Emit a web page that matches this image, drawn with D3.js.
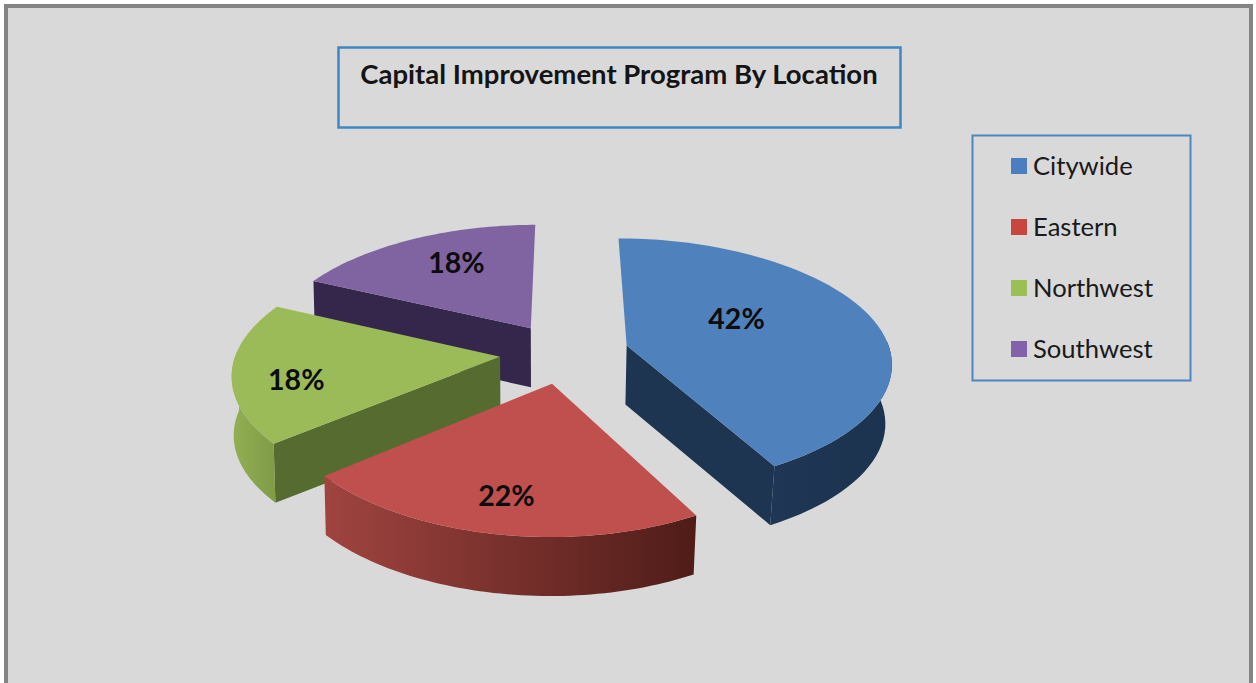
<!DOCTYPE html>
<html><head><meta charset="utf-8">
<script src="https://cdn.jsdelivr.net/npm/d3@7/dist/d3.min.js"></script>
<style>html,body{margin:0;padding:0;background:#fff;overflow:hidden}svg{display:block}text{font-family:Lato,"Open Sans",sans-serif}</style>
</head><body><svg id="c" width="1256" height="683"></svg>
<script>
const categories = ["Citywide","Eastern","Northwest","Southwest"];
const shares = [42,22,18,18];
const titleText = "Capital Improvement Program By Location";
const topColors = ["#4f81bd","#c0504d","#9bbb59","#8064a2"];
const legendColors = ["#4a7ebf","#c8463f","#9bbf55","#8262a8"];
const innerColors = ["#1e3552","#4f1c18","#566b2f","#35264c"];
const outerStops = [["#1f3654","#1c3350"],["#a04440","#4f1c18"],["#93b053","#7f9b47"],["#33264a","#33264a"]];
const labelRadius = [0.48,0.79,0.77,0.66];
const labelTurn = [-10,0,-8,3];
const drawOrder = [3,0,2,1];

const W=1256,H=683,cx=564.5,cy=353,R=264,tilt=123.5,persp=0.135,perspX=0.13,explode=0.245,depth=59;
const svg=d3.select("#c");
svg.append("rect").attr("x",6).attr("y",6).attr("width",1245).attr("height",690)
  .attr("fill","#d9d9d9").attr("stroke","#848484").attr("stroke-width",4);

function proj(X,Y,h){
  const x=cx+R*X*(1-perspX*Y), y=cy-tilt*Y/(1+persp*Y);
  if(!h) return [x,y];
  const k=x<cx?0.994:0.98;
  return [cx+(x-cx)*k, y+depth];
}
const pie=d3.pie().sort(null).value(d=>d);
const arcs=pie(shares);
const line=d3.line().curve(d3.curveLinear);
const defs=svg.append("defs");

arcs.forEach((a,i)=>{
  const g=defs.append("linearGradient").attr("id","o"+i).attr("gradientUnits","objectBoundingBox");
  g.append("stop").attr("offset",0).attr("stop-color",outerStops[i][0]);
  g.append("stop").attr("offset",1).attr("stop-color",outerStops[i][1]);
});

drawOrder.forEach(i=>{
  const a=arcs[i], mid=(a.startAngle+a.endAngle)/2;
  const ox=explode*Math.sin(mid), oy=explode*Math.cos(mid);
  const pt=(t,r,h)=>proj(ox+r*Math.sin(t),oy+r*Math.cos(t),h);
  const ts=d3.range(0,61).map(k=>a.startAngle+(a.endAngle-a.startAngle)*k/60);
  const g=svg.append("g");
  [[a.startAngle,Math.sin(a.startAngle)<-1e-6],[a.endAngle,-Math.sin(a.endAngle)<-1e-6]].forEach(([t,vis])=>{
    if(vis) g.append("path").attr("d",line([pt(t,0,0),pt(t,1,0),pt(t,1,1),pt(t,0,1)])+"Z").attr("fill",innerColors[i]);
  });
  const front=ts.filter(t=>Math.cos(t)<=0.05);
  if(front.length>1){
    const wall=front.map(t=>pt(t,1,0)).concat(front.slice().reverse().map(t=>pt(t,1,1)));
    g.append("path").attr("d",line(wall)+"Z").attr("fill",`url(#o${i})`);
  }
  const top=[pt(0,0,0)].concat(ts.map(t=>pt(t,1,0)));
  g.append("path").attr("d",line(top)+"Z").attr("fill",topColors[i]);
});

arcs.forEach((a,i)=>{
  const mid=(a.startAngle+a.endAngle)/2;
  const t=mid+labelTurn[i]*Math.PI/180, r=labelRadius[i];
  const p=proj(explode*Math.sin(mid)+r*Math.sin(t),explode*Math.cos(mid)+r*Math.cos(t),0);
  svg.append("text").attr("x",p[0]).attr("y",p[1]).attr("text-anchor","middle").attr("dominant-baseline","middle")
    .attr("font-size",28.5).attr("font-weight",700).attr("fill","#0c0c0c").text(shares[i]+"%");
});

svg.append("rect").attr("x",338.5).attr("y",47.5).attr("width",562).attr("height",80)
  .attr("fill","none").attr("stroke","#3c87c4").attr("stroke-width",2.5);
svg.append("text").attr("x",619).attr("y",84).attr("text-anchor","middle")
  .attr("font-size",27.5).attr("font-weight",700).attr("fill","#141414").text(titleText);

svg.append("rect").attr("x",972.5).attr("y",135.5).attr("width",218).attr("height",245)
  .attr("fill","none").attr("stroke","#4f86c0").attr("stroke-width",2);
const ly=d3.scalePoint().domain(categories).range([166,349]);
categories.forEach((c,i)=>{
  svg.append("rect").attr("x",1011).attr("y",ly(c)-8).attr("width",16).attr("height",16).attr("fill",legendColors[i]);
  svg.append("text").attr("x",1033).attr("y",ly(c)+9).attr("font-size",25.6).attr("fill","#1a1a1a").text(c);
});
</script></body></html>
